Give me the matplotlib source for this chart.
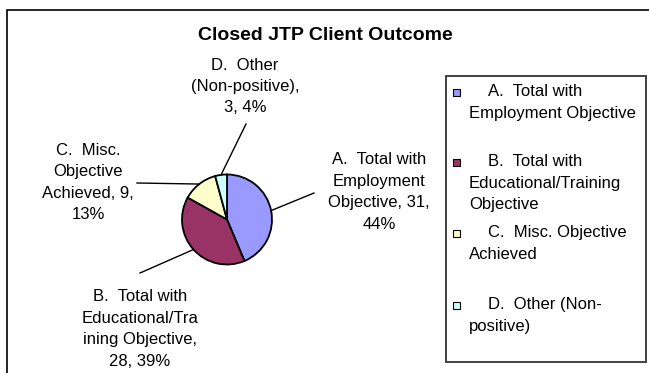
import textwrap
import numpy as np
import matplotlib
matplotlib.use("Agg")
import matplotlib.pyplot as plt
from matplotlib.patches import Rectangle

# ---- data ----
title = "Closed JTP Client Outcome"
categories = [
    "A.  Total with Employment Objective",
    "B.  Total with Educational/Training Objective",
    "C.  Misc. Objective Achieved",
    "D.  Other (Non-positive)",
]
counts = [31, 28, 9, 3]
colors = ["#9999FF", "#993366", "#FFFFCC", "#CCFFFF"]

# wrapped data labels: name, count, percent
label_templates = [
    "A.  Total with\nEmployment\nObjective, {n},\n{p}%",
    "B.  Total with\nEducational/Tra\nining Objective,\n{n}, {p}%",
    "C.  Misc.\nObjective\nAchieved, {n},\n{p}%",
    "D.  Other\n(Non-positive),\n{n}, {p}%",
]

# ---- layout (figure pixels, y measured from top) ----
W, H = 649, 373
pie_center = (227, 219.5)
pie_radius = 45
label_centers = [(379, 192), (140, 329), (88, 182.5), (245, 86.5)]
leader_ends = [(314, 193), (140, 273), (137, 183), (246, 124)]
legend_box = (446, 76, 646, 362)
legend_rows = [92, 162, 233, 305]
line_step = 21.5

plt.rcParams["font.family"] = ["Liberation Sans", "DejaVu Sans"]

fig = plt.figure(figsize=(W / 100, H / 100), dpi=100)
ax = fig.add_axes([0, 0, 1, 1])


def py(y):
    return H - y


wedges, _ = ax.pie(
    counts,
    colors=colors,
    startangle=90,
    counterclock=False,
    center=(pie_center[0], py(pie_center[1])),
    radius=pie_radius,
    wedgeprops=dict(edgecolor="black", linewidth=1.3),
    frame=True,
)
ax.set_xlim(0, W)
ax.set_ylim(0, H)
ax.set_aspect("equal", adjustable="box")
ax.axis("off")

# outer chart frame
ax.add_patch(Rectangle((7, py(10) - 400), 700, 400, fill=False,
                       edgecolor="black", linewidth=1.2))

ax.text(325, py(35), title, ha="center", va="center",
        fontsize=14, fontweight="bold")

total = sum(counts)
fs = 12
for w, n, tmpl, (lx, ly), (ex, ey) in zip(wedges, counts, label_templates,
                                            label_centers, leader_ends):
    mid = np.deg2rad((w.theta1 + w.theta2) / 2)
    sx = pie_center[0] + pie_radius * np.cos(mid)
    sy = py(pie_center[1]) + pie_radius * np.sin(mid)
    ax.plot([sx, ex], [sy, py(ey)], color="black", linewidth=1.0)
    lines = tmpl.format(n=n, p=round(n / total * 100)).split("\n")
    k = len(lines)
    for i, line in enumerate(lines):
        y = ly + (i - (k - 1) / 2) * line_step
        ax.text(lx, py(y), line, ha="center", va="center", fontsize=fs)

# legend
x0, y0, x1, y1 = legend_box
ax.add_patch(Rectangle((x0, py(y1)), x1 - x0, y1 - y0, fill=False,
                       edgecolor="#333333", linewidth=1.3))
for name, c, ry in zip(categories, colors, legend_rows):
    ax.add_patch(Rectangle((452.5, py(ry) - 3.5), 7, 7, facecolor=c,
                           edgecolor="black", linewidth=0.8))
    lines = textwrap.wrap(name, 20)
    for i, line in enumerate(lines):
        x = 488 if i == 0 else 469
        ax.text(x, py(ry + i * line_step), line, ha="left", va="center",
                fontsize=fs)

fig.savefig("out.png", dpi=100)
